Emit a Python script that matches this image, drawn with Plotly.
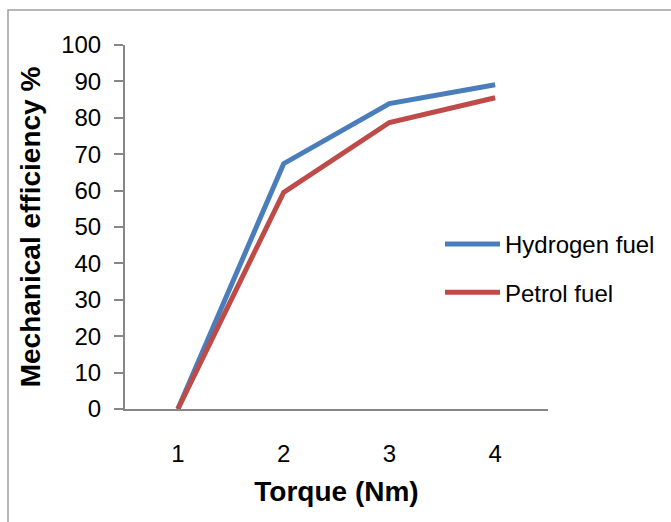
import plotly.graph_objects as go

torque = ["1", "2", "3", "4"]
hydrogen = [0, 67.4, 83.9, 89.1]
petrol = [0, 59.5, 78.7, 85.5]
y_ticks = [0, 10, 20, 30, 40, 50, 60, 70, 80, 90, 100]

BLUE = "#4A7EBB"
RED = "#BE4B48"
AXIS = "#878787"
FONT = "Liberation Sans, Arial, sans-serif"

fig = go.Figure()
fig.add_trace(go.Scatter(x=torque, y=hydrogen, mode="lines", name="Hydrogen fuel",
                         line=dict(color=BLUE, width=5), legendgroup="h"))
fig.add_trace(go.Scatter(x=torque, y=petrol, mode="lines", name="Petrol fuel",
                         line=dict(color=RED, width=5), legendgroup="p"))

L, R, T, B = 125, 123, 45, 113
W, H = 671, 522
pw, ph = W - L - R, H - T - B

fig.update_layout(
    width=W, height=H,
    margin=dict(l=L, r=R, t=T, b=B, autoexpand=False),
    paper_bgcolor="white", plot_bgcolor="white",
    font=dict(family=FONT, size=24, color="black"),
    showlegend=True,
    legend=dict(x=(440 - L) / pw, y=(409 - 222) / ph, xanchor="left", yanchor="top",
                font=dict(size=24, color="black"), tracegroupgap=14, itemwidth=55,
                bgcolor="rgba(0,0,0,0)"),
    xaxis=dict(type="category", categoryorder="array", categoryarray=torque,
               range=[-0.5, 3.5], showgrid=False, zeroline=False,
               showline=True, linecolor=AXIS, linewidth=2, ticks="",
               ticklabelstandoff=22, tickfont=dict(size=24),
               title=dict(text="<b>Torque (Nm)</b>", font=dict(size=28), standoff=16),
               automargin=False, fixedrange=True),
    yaxis=dict(range=[0, 100], tickvals=y_ticks, showgrid=False, zeroline=False,
               showline=True, linecolor=AXIS, linewidth=2, ticks="outside",
               ticklen=9, tickwidth=2, tickcolor=AXIS, ticklabelstandoff=8,
               tickfont=dict(size=24),
               title=dict(text="<b>Mechanical efficiency %</b>", font=dict(size=28), standoff=12),
               automargin=False, fixedrange=True),
    shapes=[dict(type="rect", xref="paper", yref="paper",
                 x0=(8 - L) / pw, x1=(675 - L) / pw,
                 y0=(409 - 530) / ph, y1=(409 - 10) / ph,
                 line=dict(color="#A0A0A0", width=1.5), fillcolor="rgba(0,0,0,0)",
                 layer="below")],
)

fig.write_html("out.html")
